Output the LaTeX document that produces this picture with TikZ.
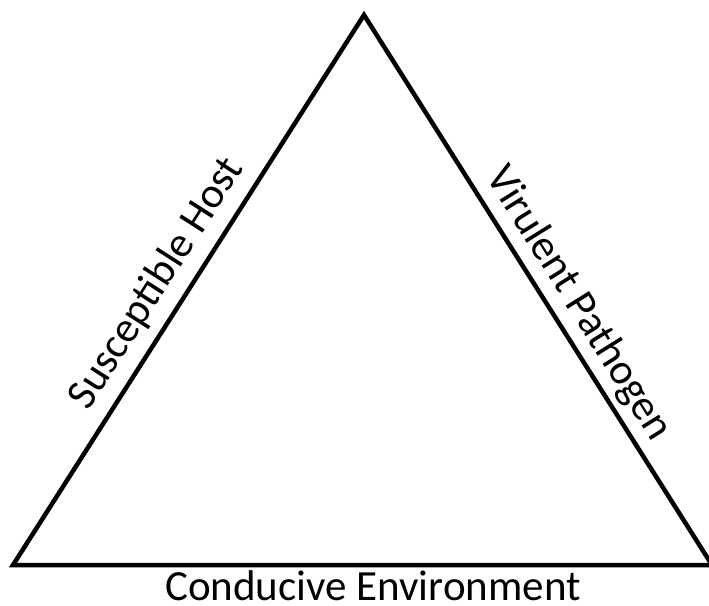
\documentclass[tikz,border=0pt]{standalone}
\usepackage{fontspec}
\setmainfont{Carlito}
\begin{document}
\begin{tikzpicture}[x=1pt,y=-1pt,
  edge/.style={line width=4.5pt, line join=miter},
  lbl/.style={inner sep=0pt, anchor=base, font=\fontsize{43}{50}\selectfont}]
\useasboundingbox (0,0) rectangle (709,605);
\coordinate (top) at (364,15);
\coordinate (bl) at (13,565);
\coordinate (br) at (712,565);
\draw[edge] (top) -- (bl) -- (br) -- cycle;
\node[lbl, rotate=57.4] (host) at (166.5,289.5) {Susceptible Host};
\node[lbl, rotate=-58] (path) at (569,309.7) {Virulent Pathogen};
\node[lbl] (env) at (373,600) {Conducive Environment};
\end{tikzpicture}
\end{document}
